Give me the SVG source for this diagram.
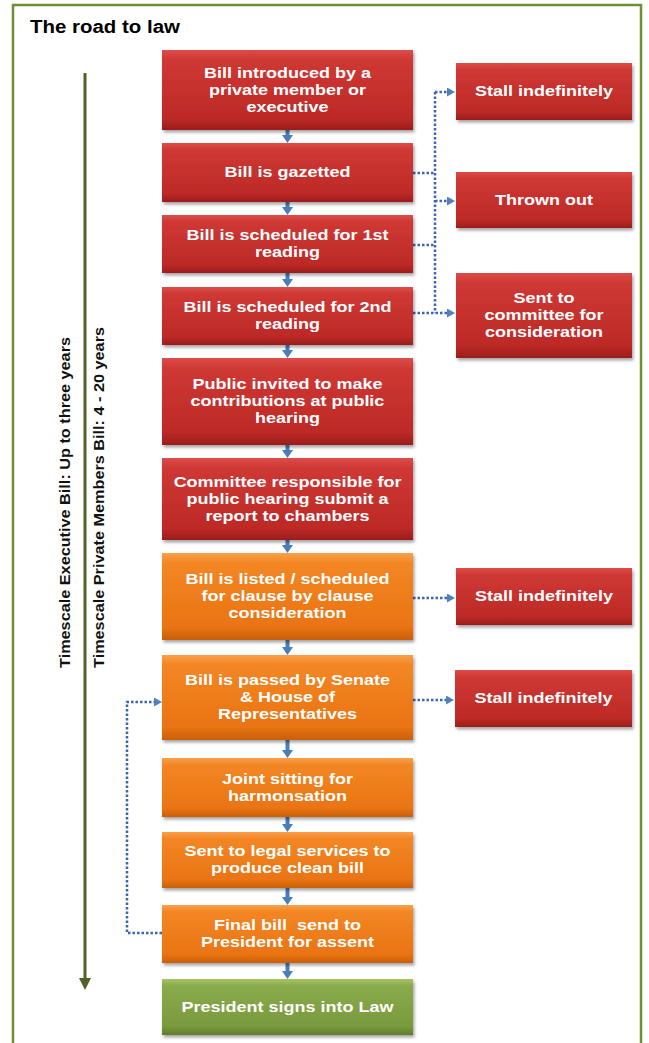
<svg xmlns="http://www.w3.org/2000/svg" width="649" height="1043" viewBox="0 0 649 1043">
<style>
.bt{font-family:"Liberation Sans",Arial,sans-serif;font-weight:bold;font-size:15px;fill:#ffffff;text-anchor:middle}
.side{font-family:"Liberation Sans",Arial,sans-serif;font-weight:bold;font-size:14.5px;fill:#111111}
.title{font-family:"Liberation Sans",Arial,sans-serif;font-weight:bold;font-size:18px;fill:#000000}
.red{fill:url(#gRed);filter:url(#sh)}
.org{fill:url(#gOrg);filter:url(#sh)}
.grn{fill:url(#gGrn);filter:url(#sh)}
.flow{stroke:#4a7ebb;stroke-width:4;fill:none;marker-end:url(#ah)}
.dot{stroke:#3d66b0;stroke-width:2.5;fill:none;stroke-dasharray:2.5 2}
.dota{stroke:#3d66b0;stroke-width:2.5;fill:none;stroke-dasharray:2.5 2;marker-end:url(#dh)}
</style>
<defs>
<linearGradient id="gRed" x1="0" y1="0" x2="0" y2="1">
<stop offset="0" stop-color="#de4c49"/><stop offset="0.12" stop-color="#cf3834"/><stop offset="0.85" stop-color="#bd2a27"/><stop offset="1" stop-color="#9c1d1b"/>
</linearGradient>
<linearGradient id="gOrg" x1="0" y1="0" x2="0" y2="1">
<stop offset="0" stop-color="#f9a04a"/><stop offset="0.12" stop-color="#f38624"/><stop offset="0.85" stop-color="#ea7412"/><stop offset="1" stop-color="#c95f08"/>
</linearGradient>
<linearGradient id="gGrn" x1="0" y1="0" x2="0" y2="1">
<stop offset="0" stop-color="#a6c466"/><stop offset="0.12" stop-color="#8aab4c"/><stop offset="0.85" stop-color="#789a3d"/><stop offset="1" stop-color="#5e7c2b"/>
</linearGradient>
<filter id="sh" x="-10%" y="-10%" width="125%" height="130%">
<feDropShadow dx="1.5" dy="2.5" stdDeviation="1.5" flood-color="#000" flood-opacity="0.35"/>
</filter>
<marker id="ah" markerUnits="userSpaceOnUse" viewBox="0 0 8 11" markerWidth="8" markerHeight="11" refX="2" refY="5.5" orient="auto">
<path d="M0,0 L8,5.5 L0,11 z" fill="#4a7ebb"/>
</marker>
<marker id="dh" markerUnits="userSpaceOnUse" viewBox="0 0 8 9" markerWidth="8" markerHeight="9" refX="2" refY="4.5" orient="auto">
<path d="M0,0 L8,4.5 L0,9 z" fill="#4f81bd"/>
</marker>
</defs>

<rect x="13" y="5" width="628" height="1050" fill="#ffffff" stroke="#6f8f35" stroke-width="2.5"/>

<text class="title" x="30" y="33" textLength="150" lengthAdjust="spacingAndGlyphs">The road to law</text>

<g id="timeline">
<line x1="85" y1="73" x2="85" y2="980" stroke="#4f6228" stroke-width="3"/>
<polygon points="79,978 91,978 85,990" fill="#4f6228"/>
<text class="side" transform="translate(70 668) rotate(-90)" textLength="331" lengthAdjust="spacingAndGlyphs">Timescale Executive Bill: Up to three years</text>
<text class="side" transform="translate(104 668) rotate(-90)" textLength="341" lengthAdjust="spacingAndGlyphs">Timescale Private Members Bill: 4 - 20 years</text>
</g>

<g id="connectors">
<path class="flow" d="M287.5,130 V137"/>
<path class="flow" d="M287.5,202 V209"/>
<path class="flow" d="M287.5,273 V281"/>
<path class="flow" d="M287.5,345 V352"/>
<path class="flow" d="M287.5,445 V452"/>
<path class="flow" d="M287.5,540 V547"/>
<path class="flow" d="M287.5,640 V649"/>
<path class="flow" d="M287.5,740 V752"/>
<path class="flow" d="M287.5,817 V826"/>
<path class="flow" d="M287.5,888 V899"/>
<path class="flow" d="M287.5,963 V973"/>
<path class="dot" d="M413,173 H435 M413,245 H435 M435,92 V313"/>
<path class="dota" d="M435,92 H449"/>
<path class="dota" d="M435,201 H449"/>
<path class="dota" d="M413,313 H449"/>
<path class="dota" d="M413,598 H449"/>
<path class="dota" d="M413,700 H448"/>
<path class="dota" d="M162,933 H127 V702 H156"/>
</g>

<g id="n1"><rect class="red" x="162" y="50" width="251" height="80"/>
<text class="bt" transform="translate(287.5 0) scale(1.2 1)"><tspan x="0" y="78">Bill introduced by a</tspan><tspan x="0" y="95">private member or</tspan><tspan x="0" y="112">executive</tspan></text></g>
<g id="n2"><rect class="red" x="162" y="143" width="251" height="59"/>
<text class="bt" transform="translate(287.5 0) scale(1.2 1)"><tspan x="0" y="177.5">Bill is gazetted</tspan></text></g>
<g id="n3"><rect class="red" x="162" y="215" width="251" height="58"/>
<text class="bt" transform="translate(287.5 0) scale(1.2 1)"><tspan x="0" y="240.5">Bill is scheduled for 1st</tspan><tspan x="0" y="257.5">reading</tspan></text></g>
<g id="n4"><rect class="red" x="162" y="287" width="251" height="58"/>
<text class="bt" transform="translate(287.5 0) scale(1.2 1)"><tspan x="0" y="312.5">Bill is scheduled for 2nd</tspan><tspan x="0" y="329.5">reading</tspan></text></g>
<g id="n5"><rect class="red" x="162" y="358" width="251" height="87"/>
<text class="bt" transform="translate(287.5 0) scale(1.2 1)"><tspan x="0" y="389.5">Public invited to make</tspan><tspan x="0" y="406.5">contributions at public</tspan><tspan x="0" y="423.5">hearing</tspan></text></g>
<g id="n6"><rect class="red" x="162" y="458" width="251" height="82"/>
<text class="bt" transform="translate(287.5 0) scale(1.2 1)"><tspan x="0" y="487">Committee responsible for</tspan><tspan x="0" y="504">public hearing submit a</tspan><tspan x="0" y="521">report to chambers</tspan></text></g>
<g id="n7"><rect class="org" x="162" y="553" width="251" height="87"/>
<text class="bt" transform="translate(287.5 0) scale(1.2 1)"><tspan x="0" y="584.5">Bill is listed / scheduled</tspan><tspan x="0" y="601.5">for clause by clause</tspan><tspan x="0" y="618.5">consideration</tspan></text></g>
<g id="n8"><rect class="org" x="162" y="655" width="251" height="85"/>
<text class="bt" transform="translate(287.5 0) scale(1.2 1)"><tspan x="0" y="685.5">Bill is passed by Senate</tspan><tspan x="0" y="702.5">&amp; House of</tspan><tspan x="0" y="719.5">Representatives</tspan></text></g>
<g id="n9"><rect class="org" x="162" y="758" width="251" height="59"/>
<text class="bt" transform="translate(287.5 0) scale(1.2 1)"><tspan x="0" y="784">Joint sitting for</tspan><tspan x="0" y="801">harmonsation</tspan></text></g>
<g id="n10"><rect class="org" x="162" y="832" width="251" height="56"/>
<text class="bt" transform="translate(287.5 0) scale(1.2 1)"><tspan x="0" y="856.5">Sent to legal services to</tspan><tspan x="0" y="873.5">produce clean bill</tspan></text></g>
<g id="n11"><rect class="org" x="162" y="905" width="251" height="58"/>
<text class="bt" transform="translate(287.5 0) scale(1.2 1)" style="white-space:pre"><tspan x="0" y="930.5">Final bill  send to</tspan><tspan x="0" y="947.5">President for assent</tspan></text></g>
<g id="n12"><rect class="grn" x="162" y="979" width="251" height="56"/>
<text class="bt" transform="translate(287.5 0) scale(1.2 1)"><tspan x="0" y="1012">President signs into Law</tspan></text></g>

<g id="s1"><rect class="red" x="456" y="63" width="176" height="57"/>
<text class="bt" transform="translate(544 0) scale(1.2 1)"><tspan x="0" y="96.5">Stall indefinitely</tspan></text></g>
<g id="s2"><rect class="red" x="456" y="172" width="176" height="56"/>
<text class="bt" transform="translate(544 0) scale(1.2 1)"><tspan x="0" y="205">Thrown out</tspan></text></g>
<g id="s3"><rect class="red" x="456" y="273" width="176" height="85"/>
<text class="bt" transform="translate(544 0) scale(1.2 1)"><tspan x="0" y="303.5">Sent to</tspan><tspan x="0" y="320.5">committee for</tspan><tspan x="0" y="337.5">consideration</tspan></text></g>
<g id="s4"><rect class="red" x="456" y="568" width="176" height="57"/>
<text class="bt" transform="translate(544 0) scale(1.2 1)"><tspan x="0" y="601.5">Stall indefinitely</tspan></text></g>
<g id="s5"><rect class="red" x="455" y="670" width="177" height="57"/>
<text class="bt" transform="translate(543.5 0) scale(1.2 1)"><tspan x="0" y="703.5">Stall indefinitely</tspan></text></g>
</svg>
